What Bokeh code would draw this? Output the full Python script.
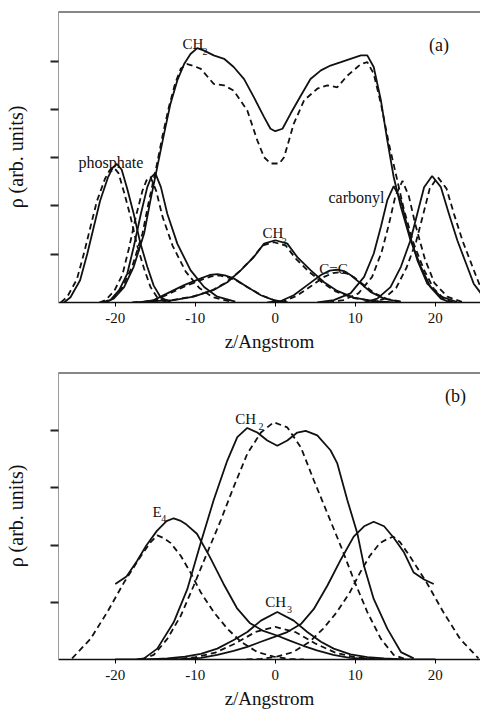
from bokeh.plotting import figure
from bokeh.layouts import column
from bokeh.models import Range1d, Span, Label, FixedTicker, CustomJSTickFormatter
from bokeh.embed import file_html
from bokeh.resources import INLINE

FONT = "Liberation Serif"

# ---------------- Panel (a) data ----------------
a_phos_l_x_s = [-26.4, -25.6, -24.4, -23.5, -22.7, -21.9, -20.9, -20.3, -19.8, -19.2, -18.5, -17.7, -16.9, -16.0, -15.2, -14.3, -13.0]
a_phos_l_y_s = [0.0, 0.11, 0.46, 1.01, 1.56, 2.11, 2.6, 2.8, 2.87, 2.75, 2.35, 1.84, 1.25, 0.74, 0.35, 0.10, 0.0]
a_phos_l_x_d = [-26.8, -26.0, -24.8, -23.9, -23.1, -22.3, -21.3, -20.7, -20.2, -19.6, -18.9, -18.1, -17.3, -16.4, -15.6, -14.7, -13.4]
a_phos_l_y_d = [0.0, 0.12, 0.48, 1.03, 1.57, 2.1, 2.56, 2.74, 2.80, 2.68, 2.28, 1.78, 1.2, 0.7, 0.32, 0.09, 0.0]

a_carb_l_x_s = [-21.4, -20.6, -19.5, -18.5, -17.7, -16.8, -16.0, -15.5, -15.0, -14.3, -13.5, -12.25, -10.6, -8.9, -7.25, -5.0]
a_carb_l_y_s = [0.0, 0.05, 0.26, 0.6, 1.15, 1.84, 2.39, 2.6, 2.68, 2.39, 1.84, 1.22, 0.67, 0.32, 0.12, 0.02]
a_carb_l_x_d = [-22.0, -21.2, -20.1, -19.1, -18.3, -17.4, -16.6, -16.1, -15.6, -14.9, -14.1, -12.85, -11.2, -9.5, -7.85, -5.6]
a_carb_l_y_d = [0.0, 0.05, 0.25, 0.58, 1.12, 1.8, 2.32, 2.53, 2.60, 2.32, 1.78, 1.18, 0.64, 0.3, 0.11, 0.02]

a_ch2_x_s = [-21.4, -20.2, -18.9, -17.7, -16.4, -15.6, -14.75, -13.9, -13.1, -12.25, -11.4, -10.6, -9.75, -8.9, -7.7, -6.4, -5.2, -3.9, -2.7, -1.4, -0.6, 0.0, 0.9, 1.9, 3.2, 4.4, 5.7, 6.9, 8.2, 9.4, 10.7, 11.5, 12.3, 13.2, 14.0, 14.8, 15.7, 16.9, 18.2, 19.4, 20.7, 21.9]
a_ch2_y_s = [0.0, 0.08, 0.32, 0.74, 1.43, 2.12, 2.81, 3.5, 4.12, 4.6, 4.94, 5.15, 5.27, 5.22, 5.12, 5.05, 4.88, 4.63, 4.26, 3.84, 3.6, 3.55, 3.6, 3.91, 4.29, 4.63, 4.81, 4.91, 4.98, 5.05, 5.12, 5.12, 4.88, 4.19, 3.36, 2.6, 1.98, 1.29, 0.74, 0.32, 0.08, 0.0]
a_ch2_x_d = [-21.6, -20.4, -19.1, -17.9, -16.6, -15.8, -14.9, -14.1, -13.3, -12.5, -11.8, -11.0, -10.2, -9.3, -7.7, -6.4, -5.2, -3.5, -2.25, -1.4, -0.6, 0.5, 1.1, 2.3, 3.6, 5.25, 6.5, 7.75, 9.0, 10.7, 11.5, 12.3, 13.2, 14.2, 15.25, 16.1, 17.3, 18.6, 19.8, 21.1, 22.3]
a_ch2_y_d = [0.0, 0.08, 0.32, 0.74, 1.43, 2.1, 2.78, 3.45, 4.05, 4.55, 4.85, 4.94, 4.9, 4.84, 4.53, 4.5, 4.39, 3.98, 3.36, 3.01, 2.88, 2.88, 3.01, 3.7, 4.19, 4.43, 4.5, 4.46, 4.7, 4.94, 4.98, 4.74, 4.12, 3.29, 2.53, 1.91, 1.22, 0.67, 0.29, 0.07, 0.0]

a_ch3_x_s = [-17.7, -15.2, -12.7, -10.2, -7.7, -6.0, -4.3, -2.7, -1.4, 0.0, 1.5, 2.75, 4.4, 6.1, 7.75, 9.8, 12.3, 14.8]
a_ch3_y_s = [0.0, 0.03, 0.05, 0.12, 0.26, 0.42, 0.67, 0.94, 1.22, 1.29, 1.22, 0.94, 0.67, 0.42, 0.24, 0.10, 0.03, 0.0]
a_ch3_x_d = [-17.9, -15.4, -12.9, -10.4, -7.9, -6.2, -4.5, -2.9, -1.6, -0.2, 1.3, 2.55, 4.2, 5.9, 7.55, 9.6, 12.1, 14.6]
a_ch3_y_d = [0.0, 0.03, 0.05, 0.12, 0.25, 0.41, 0.64, 0.91, 1.18, 1.25, 1.18, 0.91, 0.64, 0.41, 0.23, 0.10, 0.03, 0.0]

a_cc_l_x_s = [-16.8, -15.2, -13.5, -11.4, -9.3, -8.2, -7.25, -6.3, -5.2, -3.5, -1.8, -0.2, 1.5]
a_cc_l_y_s = [0.0, 0.05, 0.19, 0.36, 0.5, 0.57, 0.59, 0.56, 0.5, 0.32, 0.15, 0.05, 0.0]
a_cc_l_x_d = [-16.6, -15.0, -13.3, -11.2, -9.1, -8.0, -7.0, -6.1, -5.0, -3.3, -1.6, 0.0, 1.7]
a_cc_l_y_d = [0.0, 0.05, 0.18, 0.34, 0.48, 0.54, 0.56, 0.53, 0.47, 0.3, 0.14, 0.04, 0.0]

a_cc_r_x_s = [-1.0, 0.7, 2.3, 4.0, 5.7, 6.8, 7.75, 8.6, 9.4, 10.7, 11.9, 13.6, 15.7]
a_cc_r_y_s = [0.0, 0.03, 0.15, 0.36, 0.57, 0.66, 0.68, 0.65, 0.57, 0.39, 0.22, 0.08, 0.01]
a_cc_r_x_d = [-0.6, 1.1, 2.7, 4.4, 6.1, 7.2, 8.1, 9.0, 9.8, 11.1, 12.3, 14.0, 16.1]
a_cc_r_y_d = [0.0, 0.03, 0.14, 0.33, 0.53, 0.61, 0.63, 0.6, 0.53, 0.36, 0.2, 0.07, 0.01]

a_carb_r_x_s = [5.25, 7.3, 9.4, 11.1, 12.3, 13.2, 14.0, 14.8, 15.7, 16.5, 17.75, 19.0, 20.7, 22.75]
a_carb_r_y_s = [0.0, 0.05, 0.19, 0.53, 1.01, 1.57, 2.12, 2.41, 2.12, 1.57, 0.88, 0.39, 0.12, 0.01]
a_carb_r_x_d = [6.6, 8.5, 10.4, 12.1, 13.3, 14.2, 15.0, 15.9, 16.7, 17.5, 18.7, 19.9, 21.5, 23.4]
a_carb_r_y_d = [0.0, 0.05, 0.19, 0.53, 1.05, 1.62, 2.2, 2.52, 2.2, 1.62, 0.9, 0.4, 0.12, 0.01]

a_phos_r_x_s = [11.1, 12.75, 14.4, 15.7, 16.9, 17.75, 18.6, 19.6, 20.7, 21.7, 22.75, 24.0, 24.8, 25.7, 27.0]
a_phos_r_y_s = [0.0, 0.08, 0.32, 0.74, 1.29, 1.84, 2.39, 2.62, 2.39, 1.84, 1.29, 0.74, 0.39, 0.19, 0.03]
a_phos_r_x_d = [11.9, 13.5, 15.1, 16.4, 17.6, 18.45, 19.3, 20.3, 21.4, 22.4, 23.45, 24.7, 25.5, 26.4, 27.7]
a_phos_r_y_d = [0.0, 0.07, 0.3, 0.72, 1.26, 1.8, 2.36, 2.6, 2.36, 1.8, 1.26, 0.72, 0.38, 0.18, 0.03]

# ---------------- Panel (b) data ----------------
b_e4_l_x_s = [-20.0, -18.6, -17.3, -16.1, -14.8, -13.6, -12.7, -11.9, -11.1, -9.8, -8.2, -6.5, -4.8, -3.2, -1.5, 0.2, 1.8, 3.5, 5.2, 7.25, 9.3, 11.5, 13.5, 16.0, 20.0]
b_e4_l_y_s = [1.32, 1.45, 1.72, 2.0, 2.25, 2.42, 2.47, 2.43, 2.36, 2.2, 1.8, 1.33, 0.9, 0.64, 0.5, 0.42, 0.33, 0.24, 0.16, 0.08, 0.03, 0.01, 0.0, 0.0, 0.0]
b_e4_r_x_s = [-20.0, -16.0, -13.5, -11.3, -9.3, -7.25, -5.2, -3.5, -1.8, -0.2, 1.5, 3.2, 4.8, 6.5, 8.2, 9.8, 11.1, 12.3, 13.6, 14.8, 16.1, 17.3, 18.6, 19.8]
b_e4_r_y_s = [0.0, 0.0, 0.0, 0.01, 0.03, 0.08, 0.15, 0.22, 0.31, 0.39, 0.48, 0.62, 0.88, 1.29, 1.75, 2.15, 2.33, 2.41, 2.33, 2.13, 1.87, 1.52, 1.40, 1.32]
b_e4_l_x_d = [-25.4, -23.1, -21.0, -18.9, -16.8, -15.6, -14.75, -13.9, -13.1, -11.8, -10.6, -9.3, -7.7, -6.0, -4.3, -2.25, -0.2, 1.8, 3.6]
b_e4_l_y_d = [0.02, 0.36, 0.83, 1.35, 1.81, 2.05, 2.17, 2.12, 2.04, 1.81, 1.52, 1.17, 0.83, 0.54, 0.31, 0.13, 0.05, 0.01, 0.0]
b_e4_r_x_d = [-3.6, -1.8, 0.2, 2.25, 4.3, 6.0, 7.7, 9.3, 10.6, 11.8, 13.1, 13.9, 14.75, 15.6, 16.8, 18.9, 21.0, 23.1, 25.4]
b_e4_r_y_d = [0.0, 0.01, 0.05, 0.13, 0.31, 0.54, 0.83, 1.17, 1.52, 1.81, 2.04, 2.1, 2.15, 2.05, 1.81, 1.35, 0.83, 0.36, 0.02]

b_ch2_x_s = [-17.3, -16.4, -14.75, -12.7, -11.0, -9.3, -7.7, -6.0, -4.75, -3.5, -2.25, -1.0, 0.25, 1.5, 2.75, 3.8, 5.25, 6.9, 7.75, 9.0, 10.25, 11.1, 12.3, 14.0, 15.7, 17.3]
b_ch2_y_s = [0.0, 0.02, 0.19, 0.65, 1.23, 2.05, 2.79, 3.48, 3.89, 4.05, 3.97, 3.83, 3.74, 3.83, 3.97, 4.0, 3.92, 3.66, 3.43, 2.79, 2.21, 1.63, 1.06, 0.54, 0.13, 0.02]
b_ch2_x_d = [-16.8, -15.2, -13.5, -11.8, -10.2, -8.5, -6.8, -5.2, -3.5, -1.8, -0.2, 1.5, 3.2, 4.8, 6.5, 8.2, 9.8, 11.5, 13.2, 14.8, 16.4]
b_ch2_y_d = [0.0, 0.08, 0.36, 0.77, 1.29, 1.87, 2.44, 3.02, 3.6, 3.97, 4.15, 4.06, 3.71, 3.14, 2.56, 1.98, 1.4, 0.83, 0.36, 0.08, 0.0]

b_ch3_x_s = [-16.0, -13.5, -11.3, -9.3, -7.25, -5.2, -3.5, -1.8, 0.25, 2.3, 4.0, 5.7, 7.3, 9.4, 11.5, 13.6, 16.0]
b_ch3_y_s = [0.0, 0.02, 0.05, 0.1, 0.19, 0.34, 0.48, 0.68, 0.83, 0.68, 0.48, 0.31, 0.19, 0.09, 0.04, 0.02, 0.0]
b_ch3_x_d = [-13.0, -10.0, -7.5, -5.0, -2.5, 0.0, 2.5, 5.0, 7.5, 10.0, 13.0]
b_ch3_y_d = [0.0, 0.04, 0.12, 0.28, 0.48, 0.57, 0.48, 0.28, 0.12, 0.04, 0.0]

x_ticks = [-20, -10, 0, 10, 20]
a_y_ticks = [1, 2, 3, 4, 5]
b_y_ticks = [1, 2, 3, 4]

solid_a = [(a_phos_l_x_s, a_phos_l_y_s), (a_carb_l_x_s, a_carb_l_y_s), (a_ch2_x_s, a_ch2_y_s),
           (a_ch3_x_s, a_ch3_y_s), (a_cc_l_x_s, a_cc_l_y_s), (a_cc_r_x_s, a_cc_r_y_s),
           (a_carb_r_x_s, a_carb_r_y_s), (a_phos_r_x_s, a_phos_r_y_s)]
dashed_a = [(a_phos_l_x_d, a_phos_l_y_d), (a_carb_l_x_d, a_carb_l_y_d), (a_ch2_x_d, a_ch2_y_d),
            (a_ch3_x_d, a_ch3_y_d), (a_cc_l_x_d, a_cc_l_y_d), (a_cc_r_x_d, a_cc_r_y_d),
            (a_carb_r_x_d, a_carb_r_y_d), (a_phos_r_x_d, a_phos_r_y_d)]
solid_b = [(b_e4_l_x_s, b_e4_l_y_s), (b_e4_r_x_s, b_e4_r_y_s), (b_ch2_x_s, b_ch2_y_s), (b_ch3_x_s, b_ch3_y_s)]
dashed_b = [(b_e4_l_x_d, b_e4_l_y_d), (b_e4_r_x_d, b_e4_r_y_d), (b_ch2_x_d, b_ch2_y_d), (b_ch3_x_d, b_ch3_y_d)]


def make_panel(height, ytop, yticks, border_top, border_bottom):
    p = figure(width=480, height=height, output_backend="svg", toolbar_location=None,
               x_range=Range1d(-27.1, 25.65), y_range=Range1d(0, ytop),
               min_border_left=58, min_border_right=0,
               min_border_top=border_top, min_border_bottom=border_bottom)
    p.outline_line_color = None
    p.grid.visible = False
    p.background_fill_color = "white"
    p.border_fill_color = "white"
    # x axis
    xa = p.xaxis[0]
    xa.ticker = FixedTicker(ticks=x_ticks)
    xa.formatter = CustomJSTickFormatter(code="return tick.toString()")
    xa.minor_tick_line_color = None
    xa.major_tick_in = 0
    xa.major_tick_out = 4
    xa.major_tick_line_width = 1
    xa.axis_line_width = 1.5
    xa.axis_line_color = "#111111"
    xa.major_label_text_font = FONT
    xa.major_label_text_font_size = "15px"
    xa.major_label_text_color = "#111111"
    xa.major_label_standoff = 6
    xa.axis_label = "z/Angstrom"
    xa.axis_label_text_font = FONT
    xa.axis_label_text_font_size = "19px"
    xa.axis_label_text_font_style = "normal"
    xa.axis_label_text_color = "#111111"
    xa.axis_label_standoff = 5
    # y axis
    ya = p.yaxis[0]
    ya.ticker = FixedTicker(ticks=yticks)
    ya.formatter = CustomJSTickFormatter(code="return ''")
    ya.minor_tick_line_color = None
    ya.major_tick_in = 0
    ya.major_tick_out = 8
    ya.major_tick_line_width = 2
    ya.major_tick_line_color = "#222222"
    ya.axis_line_color = "#9a9a9a"
    ya.axis_line_width = 1
    ya.major_label_standoff = 0
    ya.axis_label = "ρ (arb. units)"
    ya.axis_label_text_font = FONT
    ya.axis_label_text_font_size = "20px"
    ya.axis_label_text_font_style = "normal"
    ya.axis_label_text_color = "#111111"
    ya.axis_label_standoff = 24
    p.add_layout(Span(location=ytop, dimension="width", line_color="#111111", line_width=2))
    return p


def draw(p, solids, dashes):
    for xs, ys in dashes:
        p.line(xs, ys, line_color="#111111", line_width=1.8, line_dash="6 4")
    for xs, ys in solids:
        p.line(xs, ys, line_color="#111111", line_width=1.8)


def lab(p, x, y, t, size="15px"):
    p.add_layout(Label(x=x, y=y, text=t, text_font=FONT, text_font_size=size,
                       text_color="#111111", text_baseline="alphabetic", text_align="left"))


pa = make_panel(355, 6.03, a_y_ticks, 11, 53)
draw(pa, solid_a, dashed_a)
lab(pa, -11.6, 5.36, "CH")
lab(pa, -9.1, 5.20, "2", "10px")
lab(pa, 19.2, 5.34, "(a)", "18px")
lab(pa, -24.6, 2.90, "phosphate", "16px")
lab(pa, 6.65, 2.17, "carbonyl", "16px")
lab(pa, -1.6, 1.43, "CH")
lab(pa, 0.8, 1.27, "3", "10px")
lab(pa, 5.5, 0.70, "C=C")

pb = make_panel(356, 5.02, b_y_ticks, 17, 50)
draw(pb, solid_b, dashed_b)
lab(pb, 21.2, 4.61, "(b)", "18px")
lab(pb, -5.0, 4.21, "CH")
lab(pb, -2.1, 4.08, "2", "10px")
lab(pb, -15.35, 2.58, "E")
lab(pb, -14.25, 2.47, "4", "10px")
lab(pb, -1.25, 1.005, "CH")
lab(pb, 1.45, 0.87, "3", "10px")

layout = column(pa, pb, spacing=0)
open("out.html", "w").write(file_html(layout, INLINE))
